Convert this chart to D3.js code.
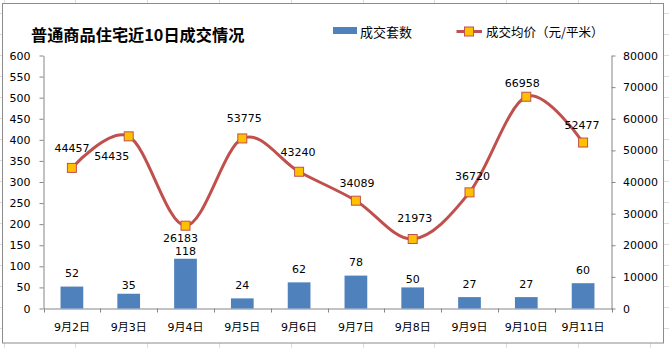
<!DOCTYPE html>
<html>
<head>
<meta charset="utf-8">
<script src="https://cdn.jsdelivr.net/npm/d3@7"></script>
<style>
  html, body { margin: 0; padding: 0; background: #ffffff; }
  svg { display: block; }
</style>
</head>
<body>
<svg id="chart" width="669" height="348"></svg>
<script>
// ---- data ----
const categories = ["9月2日", "9月3日", "9月4日", "9月5日", "9月6日", "9月7日", "9月8日", "9月9日", "9月10日", "9月11日"];
const counts = [52, 35, 118, 24, 62, 78, 50, 27, 27, 60];
const prices = [44457, 54435, 26183, 53775, 43240, 34089, 21973, 36720, 66958, 52477];
const leftTicks = [0, 50, 100, 150, 200, 250, 300, 350, 400, 450, 500, 550, 600];
const rightTicks = [0, 10000, 20000, 30000, 40000, 50000, 60000, 70000, 80000];
const title = "普通商品住宅近10日成交情况";
const seriesNames = ["成交套数", "成交均价（元/平米）"];

// ---- layout (label placement, separate from data) ----
const priceLabelOffsets = [[0, -19.5], [-17, 20], [-5, 12.5], [2, -20], [-1, -19], [1, -17], [2, -21], [3, -16], [-4, -13.5], [-1, -17]];
const countLabelDy = [-13.5, -8.5, -7, -13, -13, -13.5, -8, -13, -13, -13];

const svg = d3.select("#chart");
const W = 669, H = 348;
const plot = { left: 43.5, right: 611.5, top: 55.5, bottom: 308.5 };

const FONT = "'DejaVu Sans', 'Noto Sans CJK SC', sans-serif";
const CJK = "'Noto Sans CJK SC', sans-serif";
const axisColor = "#868686";
const barColor = "#4F81BD";
const lineColor = "#C0504D";
const markerFill = "#FFC000";

// spreadsheet background grid
const bg = svg.append("g");
bg.append("rect").attr("width", W).attr("height", H).attr("fill", "#fff");
for (let y = 13.5; y < H; y += 21) {
  bg.append("line").attr("x1", 0).attr("x2", W).attr("y1", y).attr("y2", y).attr("stroke", "#dadcdd");
}
for (let x = 3.5; x < W; x += 71.8) {
  bg.append("line").attr("x1", Math.round(x) + 0.5).attr("x2", Math.round(x) + 0.5).attr("y1", 0).attr("y2", H).attr("stroke", "#dadcdd");
}
// chart frame
svg.append("rect").attr("x", 2.5).attr("y", 3.5).attr("width", 661).attr("height", 339.5)
  .attr("fill", "#fff").attr("stroke", "#8c8c8c").attr("stroke-width", 1);

// scales
const x = d3.scaleBand().domain(categories).range([plot.left, plot.right]).padding(0);
const yL = d3.scaleLinear().domain([0, 600]).range([plot.bottom, plot.top]);
const yR = d3.scaleLinear().domain([0, 80000]).range([plot.bottom, plot.top]);
const cx = c => x(c) + x.bandwidth() / 2;

// title
svg.append("text").attr("x", 31).attr("y", 34).attr("dominant-baseline", "central")
  .attr("font-family", CJK).attr("font-weight", "bold").attr("font-size", 16.2)
  .attr("fill", "#000").text(title);

// legend
const lg = svg.append("g");
lg.append("rect").attr("x", 333).attr("y", 27).attr("width", 24).attr("height", 7).attr("fill", barColor);
lg.append("text").attr("x", 360).attr("y", 31.5).attr("dominant-baseline", "central")
  .attr("font-family", CJK).attr("font-size", 13).attr("fill", "#000").text(seriesNames[0]);
lg.append("line").attr("x1", 456.5).attr("x2", 482).attr("y1", 31.5).attr("y2", 31.5)
  .attr("stroke", lineColor).attr("stroke-width", 3);
lg.append("rect").attr("x", 464.5).attr("y", 27).attr("width", 9).attr("height", 9)
  .attr("fill", markerFill).attr("stroke", lineColor).attr("stroke-width", 1);
lg.append("text").attr("x", 486).attr("y", 31.5).attr("dominant-baseline", "central")
  .attr("font-family", CJK).attr("font-size", 12.5).attr("fill", "#000").text(seriesNames[1]);

// axes
function styleAxis(g) {
  g.select(".domain").attr("stroke", axisColor);
  g.selectAll(".tick line").attr("stroke", axisColor);
  g.selectAll("text").attr("font-family", FONT).attr("font-size", 11).attr("fill", "#000");
}
svg.append("g").attr("transform", `translate(${plot.left},0)`)
  .call(d3.axisLeft(yL).tickValues(leftTicks).tickFormat(d3.format("d")).tickSize(4).tickPadding(9).tickSizeOuter(0))
  .call(styleAxis);
svg.append("g").attr("transform", `translate(${plot.right},0)`)
  .call(d3.axisRight(yR).tickValues(rightTicks).tickFormat(d3.format("d")).tickSize(4).tickPadding(7.5).tickSizeOuter(0))
  .call(styleAxis);
const xg = svg.append("g").attr("transform", `translate(0,${plot.bottom})`)
  .call(d3.axisBottom(x).tickSize(0).tickPadding(15).tickSizeOuter(0))
  .call(styleAxis);
// category boundary ticks
const bounds = categories.map(c => x(c)).concat([x.range()[1]]);
xg.selectAll(".bound").data(bounds).enter().append("line")
  .attr("x1", d => Math.round(d) + 0.5).attr("x2", d => Math.round(d) + 0.5)
  .attr("y1", 0).attr("y2", 4).attr("stroke", axisColor);

// bars
const barW = x.bandwidth() * 0.4;
svg.append("g").selectAll("rect").data(counts).enter().append("rect")
  .attr("x", (d, i) => cx(categories[i]) - barW / 2)
  .attr("y", d => yL(d))
  .attr("width", barW)
  .attr("height", d => plot.bottom - yL(d))
  .attr("fill", barColor);

// line
const pts = prices.map((v, i) => [cx(categories[i]), yR(v)]);
svg.append("path").attr("d", d3.line().curve(d3.curveCatmullRom.alpha(0))(pts))
  .attr("fill", "none").attr("stroke", lineColor).attr("stroke-width", 3).attr("stroke-linecap", "round");
svg.append("g").selectAll("rect").data(pts).enter().append("rect")
  .attr("x", d => d[0] - 4.5).attr("y", d => d[1] - 4.5).attr("width", 9).attr("height", 9)
  .attr("fill", markerFill).attr("stroke", lineColor).attr("stroke-width", 1);

// bar labels
svg.append("g").selectAll("text").data(counts).enter().append("text")
  .attr("x", (d, i) => cx(categories[i]))
  .attr("y", (d, i) => yL(d) + countLabelDy[i])
  .attr("text-anchor", "middle").attr("dominant-baseline", "central")
  .attr("font-family", FONT).attr("font-size", 11).attr("fill", "#000")
  .text(d => d);

// price labels
svg.append("g").selectAll("text").data(prices).enter().append("text")
  .attr("x", (d, i) => pts[i][0] + priceLabelOffsets[i][0])
  .attr("y", (d, i) => pts[i][1] + priceLabelOffsets[i][1])
  .attr("text-anchor", "middle").attr("dominant-baseline", "central")
  .attr("font-family", FONT).attr("font-size", 11).attr("fill", "#000")
  .text(d => d);
</script>
</body>
</html>
